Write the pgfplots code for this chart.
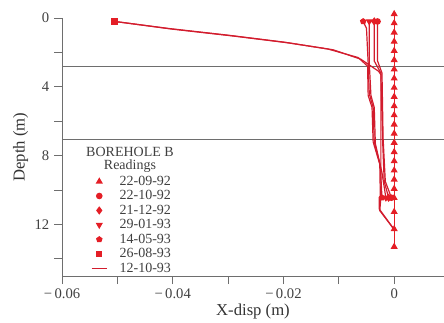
\documentclass[border=0pt]{standalone}
\usepackage{fontspec}
\setmainfont{Liberation Serif}
\usepackage{pgfplots}
\pgfplotsset{compat=1.18}
\usetikzlibrary{calc}
\definecolor{mred}{RGB}{228,30,38}
\definecolor{lred}{RGB}{210,28,45}
\definecolor{axgray}{RGB}{110,110,110}
\begin{document}
\begin{tikzpicture}
\begin{axis}[
  scale only axis, width=286.5pt, height=193.5pt,
  xmin=-0.06, xmax=0.009, ymin=0, ymax=15, y dir=reverse,
  axis x line=bottom, axis y line=left,
  axis line style={-, axgray, line width=0.6pt},
  tick style={axgray, line width=0.6pt}, tick align=outside, major tick length=6pt,
  xtick={-0.06,-0.05,-0.04,-0.03,-0.02,-0.01,0},
  xticklabels={−\,0.06,,−\,0.04,,−\,0.02,,0},
  ytick={0,2,4,6,8,10,12,14}, yticklabels={0,,4,,8,,12,},
  scaled x ticks=false,
  tick label style={font=\fontsize{11}{13}\selectfont, text=black!75},
  label style={font=\fontsize{12.5}{14}\selectfont, text=black!80},
  xlabel={X-disp (m)}, ylabel={Depth (m)},
  xlabel style={yshift=3pt}, ylabel style={yshift=-2pt},
  clip=false,
  mylegimg/.style={legend image code/.code={\draw[mark repeat=2,mark phase=2,##1] plot coordinates {(0cm,0cm) (0.2cm,0cm) (0.4cm,0cm)}; \path (0.65cm,0cm);}},
  legend style={at={(0.065,0.41)}, anchor=north west, draw=none, fill=none,
    font=\fontsize{10.5}{11}\selectfont, text=black!75, row sep=-1.6pt},
  legend cell align=left,
  every axis plot/.append style={line width=0.9pt},
]
% reference lines
\addplot[axgray, line width=0.8pt, forget plot] coordinates {(-0.06,2.83) (0.009,2.83)};
\addplot[axgray, line width=0.8pt, forget plot] coordinates {(-0.06,7.04) (0.009,7.04)};

% 22-09-92
\addplot[mred, mark=triangle*, mark size=2.2pt, forget plot] coordinates {
(0,-0.23) (0,0.30) (0,0.84) (0,1.37) (0,1.91) (0,2.44) (0,2.98) (0,3.51) (0,4.05) (0,4.58)
(0,5.12) (0,5.65) (0,6.19) (0,6.72) (0,7.25) (0,7.79) (0,8.32) (0,8.86) (0,9.39) (0,9.93)
(0,10.46) (0,11.27) (0,12.27) (0,13.3)};
% 22-10-92
\addplot[lred, mark=*, mark options={mred}, mark size=2pt, mark indices={1,6}, forget plot] coordinates {
(-0.0030,0.2) (-0.0030,2.5) (-0.0022,3.2) (-0.0020,7.0) (-0.0016,9.5) (-0.0005,10.45)};
% 21-12-92
\addplot[lred, mark=diamond*, mark options={mred}, mark size=2.4pt, mark indices={1,6}, forget plot] coordinates {
(-0.0036,0.2) (-0.0036,2.5) (-0.0024,3.2) (-0.0021,7.0) (-0.0018,9.5) (-0.0010,10.45)};
% 29-01-93
\addplot[lred, mark=triangle*, mark options={mred, rotate=180}, mark size=2.2pt, mark indices={1,7}, forget plot] coordinates {
(-0.0045,0.2) (-0.0045,2.6) (-0.0042,4.5) (-0.0036,5.2) (-0.0034,7.3) (-0.0022,9.0) (-0.0015,10.45)};
% 14-05-93
\addplot[lred, mark=pentagon*, mark options={mred}, mark size=2pt, mark indices={1,8}, forget plot] coordinates {
(-0.0056,0.2) (-0.0050,0.6) (-0.0047,2.6) (-0.0045,4.4) (-0.0038,5.2) (-0.0036,7.2) (-0.0025,8.6) (-0.0022,10.45)};
% 26-08-93
\addplot[lred, mark=square*, mark options={mred}, mark size=1.9pt, mark indices={1}, forget plot] coordinates {
(-0.0505,0.2) (-0.041,0.6) (-0.030,1.0) (-0.020,1.4) (-0.012,1.8) (-0.0065,2.3) (-0.0048,2.8)
(-0.0047,4.5) (-0.0040,5.2) (-0.0038,7.2) (-0.0026,8.5) (-0.0025,10.45) (-0.0027,10.45)
(-0.0027,11.1) (0,12.3)};
% 12-10-93
\addplot[lred, forget plot] coordinates {
(-0.0505,0.2) (-0.040,0.65) (-0.029,1.05) (-0.019,1.45) (-0.011,1.85) (-0.006,2.4)
(-0.0028,3.1) (-0.0024,3.3) (-0.0024,10.45) (-0.0026,11.2) (0,12.3)};

\addlegendimage{only marks, mark=triangle*, mred, mark size=2.2pt, mylegimg}
\addlegendentry{22-09-92}
\addlegendimage{only marks, mark=*, mred, mark size=2pt, mylegimg}
\addlegendentry{22-10-92}
\addlegendimage{only marks, mark=diamond*, mred, mark size=2.4pt, mylegimg}
\addlegendentry{21-12-92}
\addlegendimage{only marks, mark=triangle*, mark options={rotate=180}, mred, mark size=2.2pt, mylegimg}
\addlegendentry{29-01-93}
\addlegendimage{only marks, mark=pentagon*, mred, mark size=2pt, mylegimg}
\addlegendentry{14-05-93}
\addlegendimage{only marks, mark=square*, mred, mark size=1.9pt, mylegimg}
\addlegendentry{26-08-93}
\addlegendimage{lred, line width=0.9pt, mylegimg}
\addlegendentry{12-10-93}

\node[font=\fontsize{10.5}{11}\selectfont, text=black!75] at (axis description cs:0.178,0.48) {BOREHOLE B};
\node[font=\fontsize{10.5}{11}\selectfont, text=black!75] at (axis description cs:0.178,0.425) {Readings};
\end{axis}
\pgfresetboundingbox
\path ($(current axis.south west)+(-46.5pt,-35.25pt)$) rectangle ($(current axis.north east)+(0pt,13.5pt)$);
\end{tikzpicture}
\end{document}
